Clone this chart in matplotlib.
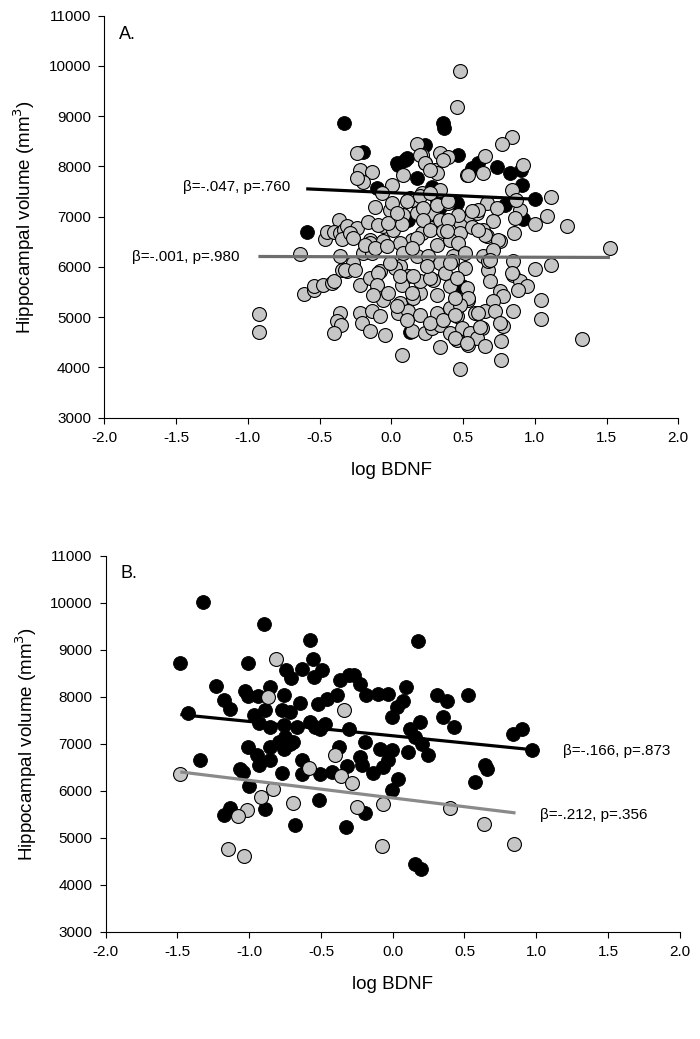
import matplotlib
matplotlib.use("Agg")
import matplotlib.pyplot as plt
import numpy as np

plt.rcParams['font.family'] = ['Liberation Sans', 'DejaVu Sans']

# ---- panel A: black group
a_black = [(-0.333, 8871), (-0.584, 6691), (0.362, 8858), (0.367, 8760), (-0.195, 8295),
           (0.037, 8068), (0.107, 8168), (0.234, 8433), (-0.102, 7571), (0.119, 6940),
           (0.467, 8229), (0.049, 8030), (0.095, 8129), (0.177, 7765), (0.560, 7964),
           (0.606, 8063), (0.734, 7997), (0.827, 7864), (0.901, 7930), (0.908, 7632),
           (1.001, 7347), (0.281, 7599), (0.339, 7201), (0.455, 7268), (0.792, 7235),
           (0.920, 6950), (0.13, 4700), (0.49, 5611), (0.316, 7338)]

# ---- panel A: gray group
a_gray = [(-0.635, 6260), (-0.919, 5068), (-0.919, 4703), (-0.605, 5465), (-0.542, 5545),
          (-0.537, 5611), (-0.477, 5644), (-0.414, 5677), (-0.402, 5710), (-0.463, 6552),
          (-0.447, 6704), (-0.367, 6936), (-0.40, 6704), (-0.356, 6671), (-0.333, 6737),
          (-0.309, 6804), (-0.347, 6552), (-0.356, 6207), (-0.347, 5942), (-0.309, 5909),
          (-0.356, 5081), (-0.379, 4915), (-0.351, 4849), (-0.402, 4683),
          (0.479, 9899), (0.460, 9190), (0.843, 8593), (0.769, 8447), (0.177, 8447),
          (-0.237, 8262), (0.339, 8275), (0.397, 8182), (0.211, 8229), (0.235, 8063),
          (0.653, 8209), (0.920, 8030), (0.525, 7831), (0.641, 7864), (0.079, 7831),
          (0.304, 7930), (-0.218, 7930), (-0.137, 7897), (-0.195, 7698), (0.002, 7632),
          (0.339, 7533), (0.211, 7466), (0.130, 7367), (-0.067, 7466), (0.839, 7533),
          (1.113, 7400), (0.397, 7268), (-0.114, 7201), (0.664, 7281), (0.734, 7168),
          (0.897, 7122), (-0.009, 7135), (0.084, 7036), (0.177, 7069), (0.293, 7069),
          (0.362, 6936), (0.479, 6903), (0.548, 7003), (0.595, 7069), (0.706, 6923),
          (0.862, 6969), (1.083, 7003), (1.001, 6857), (1.226, 6804), (-0.242, 6771),
          (-0.160, 6903), (-0.056, 6804), (0.014, 6738), (0.072, 6857), (0.211, 6671),
          (0.281, 6771), (0.479, 6671), (0.641, 6738), (0.664, 6605), (0.855, 6684),
          (0.757, 6525), (-0.149, 6539), (0.153, 6539), (0.316, 6439), (0.409, 6539),
          (1.524, 6373), (-0.195, 6274), (-0.265, 6075), (-0.137, 6274), (-0.079, 5909),
          (0.060, 6009), (0.177, 6207), (0.258, 6207), (0.339, 6075), (0.432, 6207),
          (0.513, 5976), (0.641, 6207), (0.676, 5942), (0.846, 6108), (1.001, 5956),
          (1.113, 6042), (-0.218, 5644), (-0.102, 5545), (0.118, 5810), (0.200, 5478),
          (0.293, 5744), (0.409, 5611), (0.525, 5578), (0.688, 5710), (0.846, 5843),
          (0.897, 5710), (0.943, 5624), (0.757, 5512), (0.781, 5412), (1.041, 5346),
          (-0.056, 5346), (0.060, 5280), (0.153, 5379), (0.316, 5445), (0.537, 5346),
          (0.711, 5313), (-0.218, 5081), (-0.137, 5114), (-0.079, 5015), (0.049, 5081),
          (0.118, 5114), (0.200, 5048), (0.316, 5081), (0.409, 5180), (0.455, 5015),
          (0.583, 5081), (0.653, 5114), (0.723, 5114), (0.850, 5114), (1.041, 4962),
          (-0.207, 4882), (-0.149, 4716), (-0.044, 4650), (0.142, 4716), (0.235, 4683),
          (0.281, 4783), (0.339, 4849), (0.409, 4683), (0.490, 4783), (0.548, 4683),
          (0.630, 4783), (0.781, 4816), (0.757, 4882), (0.455, 4551), (0.537, 4451),
          (0.595, 4584), (0.653, 4418), (0.762, 4518), (1.326, 4564), (0.339, 4405),
          (0.072, 4239), (0.762, 4153), (0.479, 3974),
          (0.200, 8234), (0.234, 8068), (0.316, 7870), (0.362, 8134), (0.270, 7935),
          (-0.241, 7770), (0.142, 7338), (0.200, 7404), (0.270, 7471), (0.003, 7273),
          (0.107, 7304), (0.223, 7173), (0.316, 7239), (-0.09, 6841), (-0.021, 6874),
          (0.037, 7074), (0.142, 6542), (0.223, 6940), (0.270, 6741), (0.339, 6940),
          (0.362, 6708), (-0.288, 6675), (-0.148, 6476), (-0.056, 6509), (0.060, 6476),
          (0.177, 6576),
          (0.532, 7836), (0.397, 7304), (0.867, 7338), (0.606, 7139), (0.560, 7105),
          (0.467, 7040), (0.397, 6940), (0.653, 6642), (0.56, 6795), (0.606, 6741),
          (0.746, 6542), (0.467, 6475), (0.389, 6708),
          (-0.323, 5945), (-0.253, 5945), (-0.148, 5780), (-0.09, 5879), (-0.102, 5647),
          (-0.125, 5448), (-0.021, 5481), (0.026, 5979), (0.072, 5647), (0.142, 5481),
          (0.200, 5713), (0.270, 5780), (0.037, 5215), (0.107, 4950), (0.270, 4883),
          (0.362, 4950),
          (0.421, 6110), (0.676, 6110), (0.839, 5879), (0.886, 5547), (0.537, 5382),
          (0.479, 5249), (0.444, 5382), (0.444, 5050), (0.606, 5083), (0.618, 4797),
          (0.444, 4586), (0.525, 4486),
          (-0.265, 6572), (-0.184, 6439), (-0.114, 6373), (-0.033, 6406), (-0.009, 6075),
          (0.084, 6274), (0.142, 6373), (0.060, 5810), (0.153, 5810), (0.246, 6009),
          (0.374, 5876), (0.409, 6075), (0.455, 5777), (0.513, 6274), (0.711, 6340),
          (0.688, 6141)]

# ---- panel B: black group
b_black = [(-1.32, 10020), (-1.48, 8720), (-0.90, 9560), (-0.575, 9205), (-1.01, 8716),
           (-0.556, 8800), (-0.742, 8567), (-0.633, 8596), (-0.493, 8567), (-0.547, 8426),
           (-0.707, 8411), (-0.370, 8355), (-0.307, 8461), (-1.23, 8234), (-1.028, 8121),
           (-0.942, 8014), (-1.005, 8014), (-0.858, 8213), (-0.760, 8050), (-0.649, 7880),
           (-0.523, 7858), (-0.458, 7950), (-0.388, 8035), (-1.179, 7929), (-1.133, 7752),
           (-1.423, 7667), (-0.970, 7610), (-0.888, 7716), (-0.772, 7716), (-0.714, 7681),
           (-0.935, 7447), (-0.853, 7362), (-0.760, 7397), (-0.667, 7362), (-0.574, 7468),
           (-0.505, 7326), (-0.470, 7433), (-0.540, 7362), (-0.307, 7326), (-0.749, 7149),
           (-0.795, 7043), (-0.714, 7007), (-0.760, 6900), (-0.693, 7043), (-1.005, 6936),
           (-0.858, 6936), (-0.377, 6936), (-0.947, 6759), (-0.853, 6652), (-0.935, 6546),
           (-1.342, 6667), (-0.633, 6652), (-1.063, 6475), (-1.040, 6404), (-0.774, 6383),
           (-0.633, 6369), (-0.505, 6369), (-0.423, 6404), (-0.319, 6525), (-0.998, 6113),
           (-0.516, 5801), (-0.888, 5624), (-1.137, 5638), (-1.179, 5482), (-0.679, 5284),
           (-0.323, 5234),
           (0.179, 9184), (-0.269, 8475), (-0.227, 8284), (-0.186, 8035), (-0.100, 8071),
           (-0.030, 8071), (0.090, 8213), (0.311, 8050), (0.381, 7915), (0.527, 8035),
           (0.028, 7787), (0.074, 7915), (-0.007, 7574), (0.353, 7574), (0.190, 7468),
           (0.429, 7362), (0.121, 7326), (0.156, 7149), (0.202, 7007), (-0.193, 7043),
           (0.840, 7206), (0.898, 7326), (0.968, 6879), (-0.088, 6900), (-0.007, 6879),
           (0.109, 6830), (0.248, 6759), (-0.227, 6723), (-0.216, 6546), (-0.065, 6511),
           (-0.135, 6383), (-0.030, 6652), (0.643, 6546), (0.654, 6475), (0.573, 6191),
           (0.039, 6262), (-0.007, 6014), (-0.193, 5532), (0.156, 4454), (0.197, 4348)]

# ---- panel B: gray group
b_gray = [(-0.812, 8816), (-0.870, 8000), (-0.342, 7730), (-0.400, 6759), (-0.586, 6496),
          (-0.360, 6312), (-1.481, 6369), (-0.835, 6050), (-0.916, 5872), (-0.695, 5745),
          (-1.016, 5603), (-1.079, 5461), (-1.149, 4773), (-1.035, 4617), (-0.285, 6160),
          (-0.246, 5660), (-0.070, 5730), (0.399, 5638), (0.638, 5305), (-0.072, 4830),
          (0.847, 4879)]

# regression lines (end points)
a_fit_black_x, a_fit_black_y = [-0.593, 1.0], [7553, 7347]
a_fit_gray_x, a_fit_gray_y = [-0.926, 1.524], [6207, 6188]
b_fit_black_x, b_fit_black_y = [-1.48, 0.968], [7624, 6879]
b_fit_gray_x, b_fit_gray_y = [-1.48, 0.856], [6404, 5532]

a_notes = [(-1.452, 7585, "β=-.047, p=.760"), (-1.808, 6205, "β=-.001, p=.980")]
b_notes = [(1.187, 6852, "β=-.166, p=.873"), (1.029, 5483, "β=-.212, p=.356")]

xticks = np.arange(-2.0, 2.01, 0.5)
yticks = np.arange(3000, 11001, 1000)

GRAY_FILL = '#c6c6c6'
MS = 100


def draw_panel(ax, black, gray, fits, notes, letter):
    bx, by = zip(*black)
    gx, gy = zip(*gray)
    ax.scatter(bx, by, s=MS, c='black', edgecolors='black', linewidths=0.6, zorder=2)
    ax.scatter(gx, gy, s=MS, c=GRAY_FILL, edgecolors='black', linewidths=0.8, zorder=3)
    for fx, fy, col in fits:
        ax.plot(fx, fy, color=col, lw=2.3, solid_capstyle='butt', zorder=4)
    for tx, ty, txt in notes:
        ax.text(tx, ty, txt, fontsize=11, va='center', ha='left')
    ax.text(0.025, 0.975, letter, transform=ax.transAxes, fontsize=13, va='top', ha='left')
    ax.set_xlim(-2.0, 2.0)
    ax.set_ylim(3000, 11000)
    ax.set_xticks(xticks)
    ax.set_xticklabels(['%.1f' % v for v in xticks])
    ax.set_yticks(yticks)
    ax.set_yticklabels(['%d' % v for v in yticks])
    ax.tick_params(direction='out', length=4.5, width=0.8, labelsize=11, pad=5)
    for sp in ['top', 'right']:
        ax.spines[sp].set_visible(False)
    for sp in ['left', 'bottom']:
        ax.spines[sp].set_linewidth(0.8)
        ax.spines[sp].set_clip_on(False)
    ax.set_xlabel('log BDNF', fontsize=13.5, labelpad=12)
    ax.set_ylabel('Hippocampal volume (mm$^3$)', fontsize=13.5, labelpad=8)


fig = plt.figure(figsize=(7.0, 10.39), dpi=100)
axA = fig.add_axes([0.149, 0.598, 0.820, 0.387])
axB = fig.add_axes([0.151, 0.103, 0.820, 0.362])

draw_panel(axA, a_black, a_gray,
           [(a_fit_black_x, a_fit_black_y, 'black'), (a_fit_gray_x, a_fit_gray_y, '#6e6e6e')],
           a_notes, 'A.')
draw_panel(axB, b_black, b_gray,
           [(b_fit_black_x, b_fit_black_y, 'black'), (b_fit_gray_x, b_fit_gray_y, '#8a8a8a')],
           b_notes, 'B.')

fig.savefig('out.png', dpi=100)
